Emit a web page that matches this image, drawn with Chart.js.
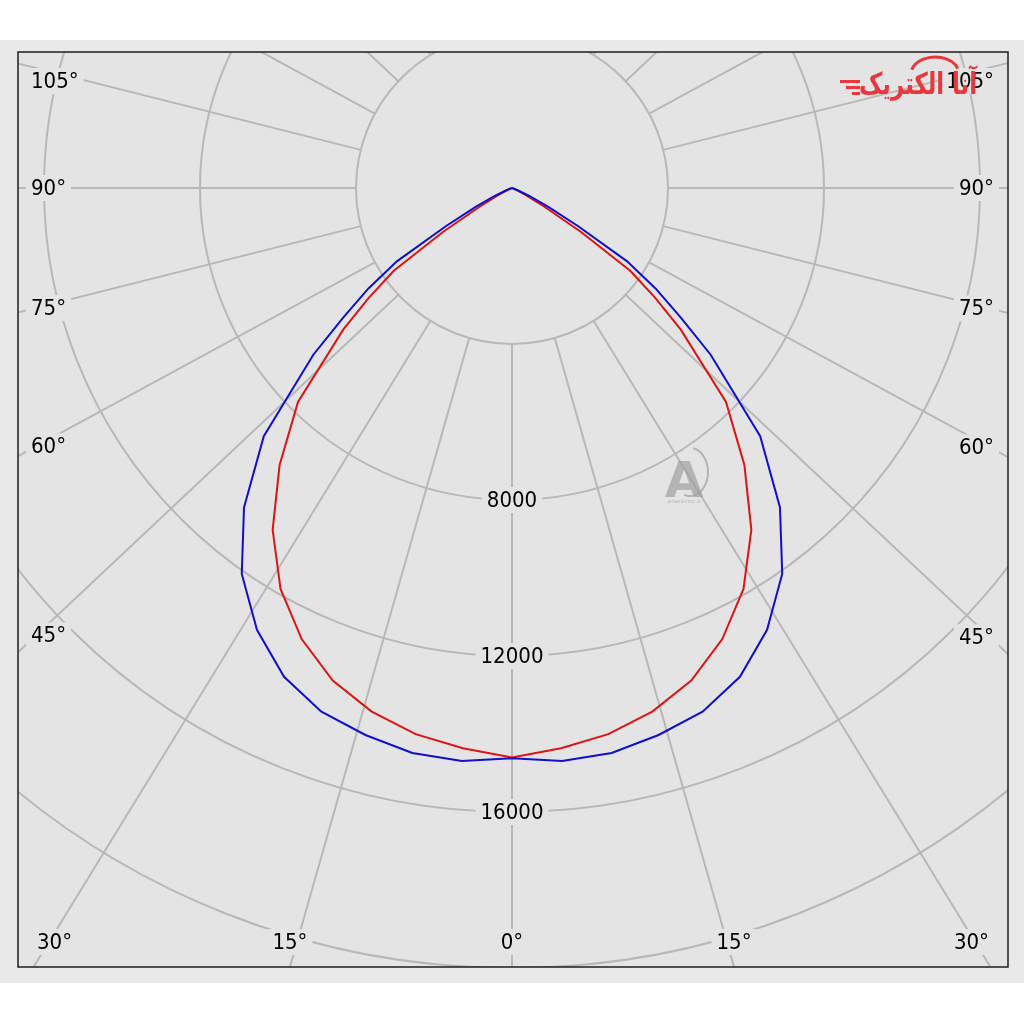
<!DOCTYPE html>
<html>
<head>
<meta charset="utf-8">
<script src="https://cdn.jsdelivr.net/npm/chart.js@4/dist/chart.umd.min.js"></script>
<style>
  html, body { margin: 0; padding: 0; background: #ffffff; }
  canvas { display: block; }
</style>
</head>
<body>
<canvas id="polarChart" width="1024" height="1024"></canvas>
<script>
// gamma angle from nadir (deg) and luminous intensity (cd)
const gammaAngles = [0, 5, 10, 15, 20, 25, 30, 35, 40, 45, 50, 52.5, 55, 57.5, 60, 62.5, 65, 67.5, 70, 75, 80, 85, 90];
const intensityC0 = [14600, 14420, 14220, 13900, 13440, 12760, 11870, 10700, 9270, 7760, 5650, 4630, 3700, 2100, 950, 400, 150, 40, 0, 0, 0, 0, 0];
const intensityC90 = [14620, 14750, 14710, 14520, 14290, 13830, 13080, 12080, 10690, 9000, 6650, 5450, 4500, 3500, 1950, 1050, 500, 200, 60, 0, 0, 0, 0];

// grid
const ringValues = [4000, 8000, 12000, 16000, 20000, 24000];
const ringLabels = [8000, 12000, 16000];
const angleLabels = [0, 15, 30, 45, 60, 75, 90, 105];

// frame of the picture
const plotBox = { left: 18, top: 52, right: 1008, bottom: 967 };
const origin = { x: 512, y: 188 };
const pxPerCd = 156 / 4000;
const spokeSquash = 0.94; // the spokes in the original are drawn slightly flattened

const LABEL_FONT = '22px "DejaVu Sans Condensed", "DejaVu Sans", sans-serif';
const PLOT_BG = '#e4e4e4';
const GRID = '#b8b8b8';
const LOGO_RED = '#e8383d';

// mirror one C-plane half on both sides of the nadir
function toPoints(values) {
  const pts = [];
  for (let i = gammaAngles.length - 1; i >= 0; i--) {
    const a = gammaAngles[i] * Math.PI / 180;
    pts.push({ x: -values[i] * Math.sin(a), y: -values[i] * Math.cos(a) });
  }
  for (let i = 1; i < gammaAngles.length; i++) {
    const a = gammaAngles[i] * Math.PI / 180;
    pts.push({ x: values[i] * Math.sin(a), y: -values[i] * Math.cos(a) });
  }
  return pts;
}

function drawLabel(ctx, text, x, y, align) {
  ctx.font = LABEL_FONT;
  const w = ctx.measureText(text).width;
  let left = x - w / 2;
  if (align === 'left') left = x;
  if (align === 'right') left = x - w;
  ctx.fillStyle = PLOT_BG;
  ctx.fillRect(left - 5, y - 13, w + 10, 26);
  ctx.fillStyle = '#000';
  ctx.textAlign = 'left';
  ctx.textBaseline = 'middle';
  ctx.fillText(text, left, y + 1);
}

const polarGrid = {
  id: 'polarGrid',
  beforeDraw(chart) {
    const { ctx, chartArea: ca } = chart;
    ctx.save();
    ctx.fillStyle = '#ffffff';
    ctx.fillRect(0, 0, chart.width, chart.height);
    ctx.fillStyle = '#e9e9e9';
    ctx.fillRect(0, 40, chart.width, 943);
    ctx.fillStyle = PLOT_BG;
    ctx.fillRect(ca.left, ca.top, ca.right - ca.left, ca.bottom - ca.top);
    ctx.restore();
  },
  beforeDatasetsDraw(chart) {
    const { ctx, chartArea: ca, scales } = chart;
    const cx = scales.x.getPixelForValue(0);
    const cy = scales.y.getPixelForValue(0);
    ctx.save();
    ctx.beginPath();
    ctx.rect(ca.left, ca.top, ca.right - ca.left, ca.bottom - ca.top);
    ctx.clip();
    ctx.strokeStyle = GRID;
    ctx.lineWidth = 2;
    ringValues.forEach(v => {
      const r = scales.x.getPixelForValue(v) - cx;
      ctx.beginPath();
      ctx.arc(cx, cy, r, 0, Math.PI * 2);
      ctx.stroke();
    });
    const r0 = scales.x.getPixelForValue(ringValues[0]) - cx;
    for (let a = 0; a < 360; a += 15) {
      const rad = a * Math.PI / 180;
      let dx = Math.sin(rad), dy = Math.cos(rad) * spokeSquash;
      const n = Math.hypot(dx, dy);
      dx /= n; dy /= n;
      ctx.beginPath();
      ctx.moveTo(cx + dx * r0, cy + dy * r0);
      ctx.lineTo(cx + dx * 2000, cy + dy * 2000);
      ctx.stroke();
    }
    ctx.restore();
  },
  afterDatasetsDraw(chart) {
    const { ctx, chartArea: ca, scales } = chart;
    const cx = scales.x.getPixelForValue(0);
    const cy = scales.y.getPixelForValue(0);
    ctx.save();

    // intensity labels on the nadir axis
    ringLabels.forEach(v => {
      drawLabel(ctx, String(v), cx, scales.y.getPixelForValue(-v), 'center');
    });

    // angle labels where the spokes leave the frame
    angleLabels.forEach(a => {
      [-1, 1].forEach(side => {
        if (a === 0 && side === 1) return;
        const rad = a * Math.PI / 180;
        const dx = side * Math.sin(rad), dy = Math.cos(rad) * spokeSquash;
        const tSide = Math.abs(dx) < 1e-9 ? Infinity : (side > 0 ? ca.right - cx : cx - ca.left) / Math.abs(dx);
        const tBottom = dy > 1e-9 ? (ca.bottom - cy) / dy : Infinity;
        const text = a + '°';
        ctx.font = LABEL_FONT;
        const w = ctx.measureText(text).width;
        if (tBottom < tSide) {
          let x = cx + dx * tBottom;
          x = Math.max(ca.left + 19 + w / 2, Math.min(ca.right - 19 - w / 2, x));
          drawLabel(ctx, text, x, ca.bottom - 25, 'center');
        } else {
          const xi = side < 0 ? ca.left + 18 : ca.right - 18;
          let y = cy + dy * Math.abs(xi - cx) / Math.abs(dx);
          y = Math.max(ca.top + 29, y);
          if (side < 0) drawLabel(ctx, text, ca.left + 13, y, 'left');
          else drawLabel(ctx, text, ca.right - 14, y, 'right');
        }
      });
    });

    // frame
    ctx.strokeStyle = '#1e1e1e';
    ctx.lineWidth = 1.5;
    ctx.strokeRect(ca.left, ca.top, ca.right - ca.left, ca.bottom - ca.top);

    // watermark in the middle
    ctx.fillStyle = 'rgba(160,160,160,0.7)';
    ctx.font = 'bold 50px "DejaVu Sans", sans-serif';
    ctx.textAlign = 'center';
    ctx.textBaseline = 'alphabetic';
    ctx.fillText('A', 684, 497);
    ctx.strokeStyle = 'rgba(160,160,160,0.7)';
    ctx.lineWidth = 2;
    ctx.beginPath();
    ctx.ellipse(690, 472, 18, 24, 0, -1.4, 1.9);
    ctx.stroke();
    ctx.font = '5px "DejaVu Sans", sans-serif';
    ctx.fillText('artaelectric.ir', 684, 503);

    // brand logo, top right
    ctx.fillStyle = LOGO_RED;
    ctx.font = 'bold 30px "DejaVu Sans", sans-serif';
    ctx.textAlign = 'right';
    ctx.fillText('آنا الکتریک', 977, 94, 118);
    ctx.fillRect(840, 80, 20, 3);
    ctx.fillRect(846, 86, 14, 3);
    ctx.fillRect(852, 92, 8, 3);
    ctx.strokeStyle = LOGO_RED;
    ctx.lineWidth = 3;
    ctx.beginPath();
    ctx.ellipse(935, 74, 24, 17, 0, Math.PI * 1.08, Math.PI * 1.9);
    ctx.stroke();
    ctx.restore();
  }
};

const ctx = document.getElementById('polarChart').getContext('2d');
new Chart(ctx, {
  type: 'scatter',
  data: {
    datasets: [
      {
        label: 'C90 - C270',
        data: toPoints(intensityC90),
        showLine: true,
        borderColor: '#1010cc',
        borderWidth: 2,
        pointRadius: 0,
        tension: 0
      },
      {
        label: 'C0 - C180',
        data: toPoints(intensityC0),
        showLine: true,
        borderColor: '#dc1414',
        borderWidth: 2,
        pointRadius: 0,
        tension: 0
      }
    ]
  },
  options: {
    responsive: false,
    animation: false,
    devicePixelRatio: 1,
    layout: {
      padding: { left: plotBox.left, top: plotBox.top, right: 1024 - plotBox.right, bottom: 1024 - plotBox.bottom }
    },
    plugins: {
      legend: { display: false },
      tooltip: { enabled: false }
    },
    scales: {
      x: {
        type: 'linear',
        display: false,
        min: -(origin.x - plotBox.left) / pxPerCd,
        max: (plotBox.right - origin.x) / pxPerCd
      },
      y: {
        type: 'linear',
        display: false,
        min: -(plotBox.bottom - origin.y) / pxPerCd,
        max: (origin.y - plotBox.top) / pxPerCd
      }
    }
  },
  plugins: [polarGrid]
});
</script>
</body>
</html>
